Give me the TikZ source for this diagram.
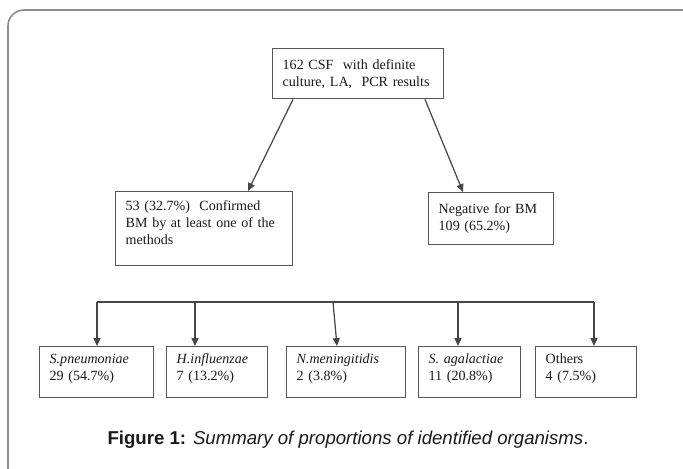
\documentclass[tikz,border=0pt]{standalone}
\usepackage{fontspec}
\setmainfont{Liberation Serif}
\newfontfamily\capfont{Liberation Sans}
\usetikzlibrary{positioning, calc, arrows.meta}

\begin{document}
\begin{tikzpicture}[x=0.02cm, y=-0.02cm,
    hop/.style 2 args={draw=boxgray, line width=0.8pt, anchor=north west, align=left,
        inner xsep=0pt, inner ysep=0pt, minimum width=#1*0.02cm, minimum height=#2*0.02cm,
        text width=(#1-20)*0.02cm, text=black!90, font=\fontsize{8}{9.7}\selectfont},
    mui/.style={draw=linegray, line width=0.7pt, -{Triangle[length=4.5pt, width=4pt]}},
    day/.style={draw=linegray, line width=0.7pt}]
        % Định nghĩa màu sắc
        \definecolor{boxgray}{RGB}{85, 85, 85}
        \definecolor{linegray}{RGB}{70, 70, 70}
        \definecolor{framegray}{RGB}{140, 140, 140}

        \useasboundingbox (0,0) rectangle (683,468);
        \clip (0,0) rectangle (683,468);

        % Khung ngoài (góc bo tròn)
        \draw[framegray, line width=0.9pt, rounded corners=9] (8,480) -- (8,10) -- (700,10);

        % 1. Hộp trên cùng
        \node[hop={171}{50}] (csf) at (272,48) {162 CSF~ with definite\\culture, LA,~ PCR results};

        % 2. Hai nhánh
        \node[hop={177}{74}] (conf) at (115,191) {53 (32.7\%)~ Confirmed\\BM by at least one of the\\methods\par\vspace*{7pt}};
        \node[hop={125}{52}] (neg) at (428,192) {Negative for BM\\109 (65.2\%)};

        \draw[mui] ($(csf.south west)+(21,0)$) -- ($(conf.north west)+(133,0)$);
        \draw[mui] ($(csf.south west)+(153,0)$) -- ($(neg.north west)+(35,0)$);

        % 3. Các hộp vi khuẩn
        \node[hop={114}{51}] (spn) at (39,346) {\textit{S.pneumoniae}\\29 (54.7\%)\par\vspace*{4pt}};
        \node[hop={101}{51}] (hin) at (166,346) {\textit{H.influenzae}\\7 (13.2\%)\par\vspace*{4pt}};
        \node[hop={119}{51}] (nme) at (286,346) {\textit{N.meningitidis}\\2 (3.8\%)\par\vspace*{4pt}};
        \node[hop={102}{51}] (sag) at (418,346) {\textit{S. agalactiae}\\11 (20.8\%)\par\vspace*{4pt}};
        \node[hop={101}{51}] (oth) at (535,346) {Others\\4 (7.5\%)\par\vspace*{4pt}};

        % Thanh nối ngang
        \coordinate (bus) at (0,302);
        \coordinate (t1) at ($(spn.north west)+(58,0)$);
        \coordinate (t2) at ($(hin.north west)+(29,0)$);
        \coordinate (t3) at ($(nme.north west)+(51,0)$);
        \coordinate (t4) at ($(sag.north west)+(40,0)$);
        \coordinate (t5) at ($(oth.north west)+(59,0)$);

        \draw[day] ($(conf.south west)+(103,0)$) -- ($(conf.south west)+(103,0)$ |- bus);
        \draw[day] (t1 |- bus) -- (t5 |- bus);
        \draw[mui] (t1 |- bus) -- (t1);
        \draw[mui] (t2 |- bus) -- (t2);
        \draw[mui] ($(t3 |- bus)+(-4,0)$) -- (t3);
        \draw[mui] (t4 |- bus) -- (t4);
        \draw[mui] (t5 |- bus) -- (t5);

        % 4. Chú thích hình
        \node[font=\capfont\fontsize{10.6}{12}\selectfont, text=black!90] (cap) at (348,440)
            {\textbf{Figure 1:} \textit{Summary of proportions of identified organisms}.};
\end{tikzpicture}
\end{document}
